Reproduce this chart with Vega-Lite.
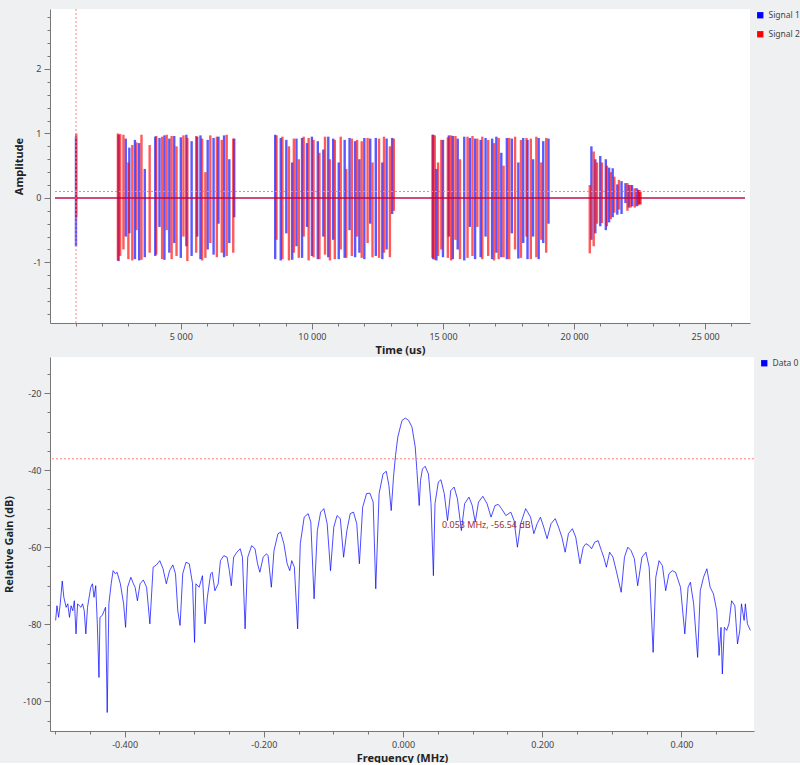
{
  "$schema": "https://vega.github.io/schema/vega-lite/v6.json",
  "padding": {"left": 3, "top": 8, "right": 0, "bottom": 0},
  "spacing": 2,
  "datasets": {
    "baseline": [{"t": 200, "v": 0}, {"t": 26520, "v": 0}],
    "trigger": [{"t": 200, "v": 0.1}, {"t": 26520, "v": 0.1}],
    "pulses": [
      {"s": "Signal 1", "t": 1000, "hi": 0.95, "lo": -0.75},
      {"s": "Signal 1", "t": 2624, "hi": 0.98, "lo": -0.98},
      {"s": "Signal 1", "t": 2899, "hi": 0.92, "lo": -0.6},
      {"s": "Signal 1", "t": 3036, "hi": 0.78, "lo": -0.55},
      {"s": "Signal 1", "t": 3249, "hi": 0.9, "lo": -0.95},
      {"s": "Signal 1", "t": 3411, "hi": 0.85, "lo": -0.97},
      {"s": "Signal 1", "t": 3624, "hi": 0.45, "lo": -0.92},
      {"s": "Signal 1", "t": 4024, "hi": 0.95, "lo": -0.9},
      {"s": "Signal 1", "t": 4186, "hi": 0.93, "lo": -0.45},
      {"s": "Signal 1", "t": 4374, "hi": 0.97, "lo": -0.96},
      {"s": "Signal 1", "t": 4561, "hi": 0.92, "lo": -0.85},
      {"s": "Signal 1", "t": 4749, "hi": 0.96, "lo": -0.7},
      {"s": "Signal 1", "t": 4999, "hi": 0.94, "lo": -0.93},
      {"s": "Signal 1", "t": 5211, "hi": 0.98, "lo": -0.75},
      {"s": "Signal 1", "t": 5411, "hi": 0.88, "lo": -0.9},
      {"s": "Signal 1", "t": 5624, "hi": 0.95, "lo": -0.6},
      {"s": "Signal 1", "t": 5749, "hi": 0.97, "lo": -0.95},
      {"s": "Signal 1", "t": 6024, "hi": 0.9, "lo": -0.8},
      {"s": "Signal 1", "t": 6249, "hi": 0.93, "lo": -0.88},
      {"s": "Signal 1", "t": 6436, "hi": 0.95, "lo": -0.4},
      {"s": "Signal 1", "t": 6649, "hi": 0.97, "lo": -0.92},
      {"s": "Signal 1", "t": 6849, "hi": 0.6, "lo": -0.7},
      {"s": "Signal 1", "t": 7036, "hi": 0.92, "lo": -0.3},
      {"s": "Signal 1", "t": 8599, "hi": 0.98, "lo": -0.95},
      {"s": "Signal 1", "t": 8811, "hi": 0.93, "lo": -0.97},
      {"s": "Signal 1", "t": 9024, "hi": 0.9, "lo": -0.55},
      {"s": "Signal 1", "t": 9249, "hi": 0.55, "lo": -0.96},
      {"s": "Signal 1", "t": 9411, "hi": 0.92, "lo": -0.75},
      {"s": "Signal 1", "t": 9624, "hi": 0.93, "lo": -0.93},
      {"s": "Signal 1", "t": 9811, "hi": 0.85, "lo": -0.45},
      {"s": "Signal 1", "t": 9999, "hi": 0.95, "lo": -0.9},
      {"s": "Signal 1", "t": 10224, "hi": 0.88, "lo": -0.95},
      {"s": "Signal 1", "t": 10436, "hi": 0.75, "lo": -0.6},
      {"s": "Signal 1", "t": 10624, "hi": 0.95, "lo": -0.92},
      {"s": "Signal 1", "t": 10811, "hi": 0.92, "lo": -0.65},
      {"s": "Signal 1", "t": 11024, "hi": 0.55, "lo": -0.95},
      {"s": "Signal 1", "t": 11249, "hi": 0.9, "lo": -0.93},
      {"s": "Signal 1", "t": 11436, "hi": 0.93, "lo": -0.5},
      {"s": "Signal 1", "t": 11649, "hi": 0.88, "lo": -0.92},
      {"s": "Signal 1", "t": 11811, "hi": 0.6, "lo": -0.85},
      {"s": "Signal 1", "t": 11999, "hi": 0.93, "lo": -0.95},
      {"s": "Signal 1", "t": 12224, "hi": 0.92, "lo": -0.4},
      {"s": "Signal 1", "t": 12436, "hi": 0.93, "lo": -0.9},
      {"s": "Signal 1", "t": 12686, "hi": 0.55, "lo": -0.95},
      {"s": "Signal 1", "t": 12849, "hi": 0.92, "lo": -0.8},
      {"s": "Signal 1", "t": 13061, "hi": 0.93, "lo": -0.25},
      {"s": "Signal 1", "t": 14624, "hi": 0.98, "lo": -0.95},
      {"s": "Signal 1", "t": 14749, "hi": 0.45, "lo": -0.97},
      {"s": "Signal 1", "t": 14999, "hi": 0.9, "lo": -0.92},
      {"s": "Signal 1", "t": 15224, "hi": 0.97, "lo": -0.6},
      {"s": "Signal 1", "t": 15374, "hi": 0.96, "lo": -0.95},
      {"s": "Signal 1", "t": 15561, "hi": 0.92, "lo": -0.8},
      {"s": "Signal 1", "t": 15811, "hi": 0.95, "lo": -0.97},
      {"s": "Signal 1", "t": 16024, "hi": 0.93, "lo": -0.45},
      {"s": "Signal 1", "t": 16224, "hi": 0.92, "lo": -0.95},
      {"s": "Signal 1", "t": 16436, "hi": 0.9, "lo": -0.92},
      {"s": "Signal 1", "t": 16624, "hi": 0.93, "lo": -0.6},
      {"s": "Signal 1", "t": 16874, "hi": 0.92, "lo": -0.95},
      {"s": "Signal 1", "t": 17036, "hi": 0.95, "lo": -0.85},
      {"s": "Signal 1", "t": 17224, "hi": 0.7, "lo": -0.92},
      {"s": "Signal 1", "t": 17436, "hi": 0.93, "lo": -0.95},
      {"s": "Signal 1", "t": 17624, "hi": 0.92, "lo": -0.55},
      {"s": "Signal 1", "t": 17874, "hi": 0.55, "lo": -0.94},
      {"s": "Signal 1", "t": 18061, "hi": 0.93, "lo": -0.7},
      {"s": "Signal 1", "t": 18224, "hi": 0.9, "lo": -0.95},
      {"s": "Signal 1", "t": 18436, "hi": 0.6, "lo": -0.6},
      {"s": "Signal 1", "t": 18649, "hi": 0.93, "lo": -0.95},
      {"s": "Signal 1", "t": 18824, "hi": 0.88, "lo": -0.7},
      {"s": "Signal 1", "t": 19024, "hi": 0.92, "lo": -0.4},
      {"s": "Signal 1", "t": 20661, "hi": 0.8, "lo": -0.65},
      {"s": "Signal 1", "t": 20811, "hi": 0.6, "lo": -0.55},
      {"s": "Signal 1", "t": 20999, "hi": 0.65, "lo": -0.44},
      {"s": "Signal 1", "t": 21211, "hi": 0.6, "lo": -0.5},
      {"s": "Signal 1", "t": 21336, "hi": 0.47, "lo": -0.38},
      {"s": "Signal 1", "t": 21474, "hi": 0.46, "lo": -0.3},
      {"s": "Signal 1", "t": 21649, "hi": 0.21, "lo": -0.26},
      {"s": "Signal 1", "t": 21811, "hi": 0.26, "lo": -0.25},
      {"s": "Signal 1", "t": 21961, "hi": 0.23, "lo": -0.08},
      {"s": "Signal 1", "t": 22086, "hi": 0.2, "lo": -0.15},
      {"s": "Signal 1", "t": 22211, "hi": 0.2, "lo": -0.13},
      {"s": "Signal 1", "t": 22386, "hi": 0.15, "lo": -0.13},
      {"s": "Signal 1", "t": 22474, "hi": 0.12, "lo": -0.1},
      {"s": "Signal 2", "t": 1010, "hi": 1.0, "lo": -0.3},
      {"s": "Signal 2", "t": 2599, "hi": 1.0, "lo": -0.97},
      {"s": "Signal 2", "t": 2686, "hi": 0.99, "lo": -0.9},
      {"s": "Signal 2", "t": 2811, "hi": 0.98, "lo": -0.8},
      {"s": "Signal 2", "t": 2999, "hi": 0.55, "lo": -0.95},
      {"s": "Signal 2", "t": 3149, "hi": 0.82, "lo": -0.97},
      {"s": "Signal 2", "t": 3311, "hi": 0.86, "lo": -0.5},
      {"s": "Signal 2", "t": 3499, "hi": 0.98, "lo": -0.96},
      {"s": "Signal 2", "t": 3811, "hi": 0.82, "lo": -0.85},
      {"s": "Signal 2", "t": 4061, "hi": 0.96, "lo": -0.88},
      {"s": "Signal 2", "t": 4286, "hi": 0.95, "lo": -0.95},
      {"s": "Signal 2", "t": 4461, "hi": 0.98, "lo": -0.5},
      {"s": "Signal 2", "t": 4649, "hi": 0.96, "lo": -0.95},
      {"s": "Signal 2", "t": 4836, "hi": 0.8, "lo": -0.9},
      {"s": "Signal 2", "t": 5099, "hi": 0.97, "lo": -0.6},
      {"s": "Signal 2", "t": 5249, "hi": 0.93, "lo": -0.98},
      {"s": "Signal 2", "t": 5586, "hi": 0.96, "lo": -0.85},
      {"s": "Signal 2", "t": 5811, "hi": 0.92, "lo": -0.97},
      {"s": "Signal 2", "t": 5936, "hi": 0.4, "lo": -0.93},
      {"s": "Signal 2", "t": 6124, "hi": 0.97, "lo": -0.7},
      {"s": "Signal 2", "t": 6374, "hi": 0.95, "lo": -0.92},
      {"s": "Signal 2", "t": 6561, "hi": 0.9, "lo": -0.85},
      {"s": "Signal 2", "t": 6749, "hi": 0.98, "lo": -0.9},
      {"s": "Signal 2", "t": 6999, "hi": 0.92, "lo": -0.85},
      {"s": "Signal 2", "t": 8649, "hi": 0.97, "lo": -0.65},
      {"s": "Signal 2", "t": 8874, "hi": 0.95, "lo": -0.95},
      {"s": "Signal 2", "t": 9124, "hi": 0.8, "lo": -0.97},
      {"s": "Signal 2", "t": 9311, "hi": 0.92, "lo": -0.85},
      {"s": "Signal 2", "t": 9499, "hi": 0.6, "lo": -0.93},
      {"s": "Signal 2", "t": 9686, "hi": 0.95, "lo": -0.6},
      {"s": "Signal 2", "t": 9874, "hi": 0.93, "lo": -0.97},
      {"s": "Signal 2", "t": 10061, "hi": 0.9, "lo": -0.92},
      {"s": "Signal 2", "t": 10286, "hi": 0.7, "lo": -0.95},
      {"s": "Signal 2", "t": 10499, "hi": 0.95, "lo": -0.88},
      {"s": "Signal 2", "t": 10686, "hi": 0.6, "lo": -0.97},
      {"s": "Signal 2", "t": 10874, "hi": 0.9, "lo": -0.95},
      {"s": "Signal 2", "t": 11099, "hi": 0.95, "lo": -0.8},
      {"s": "Signal 2", "t": 11311, "hi": 0.45, "lo": -0.93},
      {"s": "Signal 2", "t": 11524, "hi": 0.92, "lo": -0.9},
      {"s": "Signal 2", "t": 11724, "hi": 0.9, "lo": -0.6},
      {"s": "Signal 2", "t": 11899, "hi": 0.88, "lo": -0.93},
      {"s": "Signal 2", "t": 12124, "hi": 0.93, "lo": -0.7},
      {"s": "Signal 2", "t": 12311, "hi": 0.55, "lo": -0.92},
      {"s": "Signal 2", "t": 12561, "hi": 0.92, "lo": -0.93},
      {"s": "Signal 2", "t": 12749, "hi": 0.95, "lo": -0.85},
      {"s": "Signal 2", "t": 12974, "hi": 0.8, "lo": -0.92},
      {"s": "Signal 2", "t": 13124, "hi": 0.92, "lo": -0.2},
      {"s": "Signal 2", "t": 14599, "hi": 0.98, "lo": -0.93},
      {"s": "Signal 2", "t": 14686, "hi": 0.97, "lo": -0.96},
      {"s": "Signal 2", "t": 14811, "hi": 0.55, "lo": -0.9},
      {"s": "Signal 2", "t": 14936, "hi": 0.9, "lo": -0.8},
      {"s": "Signal 2", "t": 15186, "hi": 0.94, "lo": -0.93},
      {"s": "Signal 2", "t": 15311, "hi": 0.97, "lo": -0.97},
      {"s": "Signal 2", "t": 15474, "hi": 0.96, "lo": -0.65},
      {"s": "Signal 2", "t": 15649, "hi": 0.6, "lo": -0.95},
      {"s": "Signal 2", "t": 15936, "hi": 0.95, "lo": -0.93},
      {"s": "Signal 2", "t": 16124, "hi": 0.96, "lo": -0.9},
      {"s": "Signal 2", "t": 16311, "hi": 0.92, "lo": -0.45},
      {"s": "Signal 2", "t": 16499, "hi": 0.95, "lo": -0.95},
      {"s": "Signal 2", "t": 16724, "hi": 0.9, "lo": -0.9},
      {"s": "Signal 2", "t": 16949, "hi": 0.85, "lo": -0.97},
      {"s": "Signal 2", "t": 17124, "hi": 0.93, "lo": -0.95},
      {"s": "Signal 2", "t": 17311, "hi": 0.5, "lo": -0.92},
      {"s": "Signal 2", "t": 17524, "hi": 0.93, "lo": -0.95},
      {"s": "Signal 2", "t": 17749, "hi": 0.95, "lo": -0.8},
      {"s": "Signal 2", "t": 17974, "hi": 0.9, "lo": -0.93},
      {"s": "Signal 2", "t": 18186, "hi": 0.93, "lo": -0.6},
      {"s": "Signal 2", "t": 18349, "hi": 0.92, "lo": -0.95},
      {"s": "Signal 2", "t": 18561, "hi": 0.95, "lo": -0.92},
      {"s": "Signal 2", "t": 18749, "hi": 0.55, "lo": -0.65},
      {"s": "Signal 2", "t": 18936, "hi": 0.93, "lo": -0.85},
      {"s": "Signal 2", "t": 20599, "hi": 0.2, "lo": -0.86},
      {"s": "Signal 2", "t": 20749, "hi": 0.72, "lo": -0.75},
      {"s": "Signal 2", "t": 20874, "hi": 0.55, "lo": -0.4},
      {"s": "Signal 2", "t": 21061, "hi": 0.55, "lo": -0.39},
      {"s": "Signal 2", "t": 21249, "hi": 0.5, "lo": -0.44},
      {"s": "Signal 2", "t": 21399, "hi": 0.4, "lo": -0.33},
      {"s": "Signal 2", "t": 21536, "hi": 0.33, "lo": -0.23},
      {"s": "Signal 2", "t": 21711, "hi": 0.28, "lo": -0.18},
      {"s": "Signal 2", "t": 22036, "hi": 0.23, "lo": -0.2},
      {"s": "Signal 2", "t": 22161, "hi": 0.2, "lo": -0.15},
      {"s": "Signal 2", "t": 22311, "hi": 0.15, "lo": -0.15},
      {"s": "Signal 2", "t": 22436, "hi": 0.13, "lo": -0.12},
      {"s": "Signal 2", "t": 22499, "hi": 0.12, "lo": -0.1},
      {"s": "Signal 2", "t": 22536, "hi": 0.1, "lo": -0.1}
    ],
    "spectrum": [
      {"f": -0.4991, "db": -79.0}, {"f": -0.4972, "db": -75.2}, {"f": -0.4948, "db": -78.2}, {"f": -0.4925, "db": -74.7},
      {"f": -0.4896, "db": -68.8}, {"f": -0.4873, "db": -73.0}, {"f": -0.484, "db": -75.6}, {"f": -0.4816, "db": -74.7},
      {"f": -0.4792, "db": -78.2}, {"f": -0.4769, "db": -75.2}, {"f": -0.4745, "db": -76.5}, {"f": -0.4722, "db": -73.9},
      {"f": -0.4698, "db": -82.5}, {"f": -0.4675, "db": -74.7}, {"f": -0.4651, "db": -75.2}, {"f": -0.4627, "db": -75.6},
      {"f": -0.4604, "db": -74.7}, {"f": -0.458, "db": -76.5}, {"f": -0.4557, "db": -82.5}, {"f": -0.4533, "db": -75.6},
      {"f": -0.4486, "db": -70.4}, {"f": -0.4462, "db": -69.5}, {"f": -0.4439, "db": -73.0}, {"f": -0.4415, "db": -70.0},
      {"f": -0.4392, "db": -79.9}, {"f": -0.4368, "db": -93.8}, {"f": -0.4354, "db": -78.2}, {"f": -0.4321, "db": -77.7},
      {"f": -0.4274, "db": -75.6}, {"f": -0.425, "db": -102.9}, {"f": -0.4226, "db": -74.7}, {"f": -0.4193, "db": -69.5},
      {"f": -0.4165, "db": -66.1}, {"f": -0.4132, "db": -66.9}, {"f": -0.4108, "db": -66.5}, {"f": -0.4061, "db": -69.5},
      {"f": -0.4014, "db": -74.7}, {"f": -0.3986, "db": -80.8}, {"f": -0.3958, "db": -70.4}, {"f": -0.391, "db": -67.8},
      {"f": -0.3873, "db": -69.5}, {"f": -0.3849, "db": -70.4}, {"f": -0.3816, "db": -73.9}, {"f": -0.3778, "db": -69.5},
      {"f": -0.3731, "db": -68.5}, {"f": -0.3684, "db": -70.4}, {"f": -0.3637, "db": -79.9}, {"f": -0.359, "db": -65.2},
      {"f": -0.3542, "db": -64.6}, {"f": -0.3495, "db": -63.5}, {"f": -0.3448, "db": -65.6}, {"f": -0.3401, "db": -69.5},
      {"f": -0.3354, "db": -66.1}, {"f": -0.3307, "db": -64.6}, {"f": -0.3269, "db": -66.9}, {"f": -0.3236, "db": -76.5},
      {"f": -0.3203, "db": -80.3}, {"f": -0.3165, "db": -66.9}, {"f": -0.3118, "db": -63.9}, {"f": -0.3071, "db": -64.3},
      {"f": -0.3024, "db": -69.5}, {"f": -0.2995, "db": -84.7}, {"f": -0.2976, "db": -69.5}, {"f": -0.2929, "db": -70.4},
      {"f": -0.2882, "db": -67.4}, {"f": -0.2844, "db": -79.9}, {"f": -0.2811, "db": -73.0}, {"f": -0.2764, "db": -66.9},
      {"f": -0.2741, "db": -66.5}, {"f": -0.2703, "db": -71.3}, {"f": -0.2656, "db": -69.5}, {"f": -0.2623, "db": -63.5},
      {"f": -0.2575, "db": -62.2}, {"f": -0.2528, "db": -62.6}, {"f": -0.2495, "db": -66.1}, {"f": -0.2467, "db": -70.0},
      {"f": -0.2434, "db": -62.6}, {"f": -0.2387, "db": -61.3}, {"f": -0.234, "db": -60.4}, {"f": -0.2307, "db": -62.6},
      {"f": -0.2269, "db": -81.2}, {"f": -0.2231, "db": -62.6}, {"f": -0.2175, "db": -59.6}, {"f": -0.2127, "db": -60.4},
      {"f": -0.209, "db": -64.3}, {"f": -0.2057, "db": -66.5}, {"f": -0.2009, "db": -62.6}, {"f": -0.1962, "db": -61.7},
      {"f": -0.1939, "db": -62.2}, {"f": -0.1892, "db": -70.4}, {"f": -0.1854, "db": -60.9}, {"f": -0.1797, "db": -56.5},
      {"f": -0.1759, "db": -56.1}, {"f": -0.1712, "db": -59.1}, {"f": -0.1665, "db": -64.3}, {"f": -0.1627, "db": -66.1},
      {"f": -0.1599, "db": -63.5}, {"f": -0.1561, "db": -65.2}, {"f": -0.1514, "db": -81.2}, {"f": -0.1476, "db": -59.1},
      {"f": -0.142, "db": -52.2}, {"f": -0.1363, "db": -51.3}, {"f": -0.1325, "db": -53.5}, {"f": -0.1278, "db": -73.4},
      {"f": -0.1231, "db": -55.7}, {"f": -0.1184, "db": -50.9}, {"f": -0.1137, "db": -50.0}, {"f": -0.109, "db": -53.9},
      {"f": -0.1042, "db": -66.1}, {"f": -0.0995, "db": -54.8}, {"f": -0.0948, "db": -51.8}, {"f": -0.0901, "db": -52.6},
      {"f": -0.0854, "db": -62.6}, {"f": -0.0807, "db": -55.7}, {"f": -0.0759, "db": -51.3}, {"f": -0.0712, "db": -50.9},
      {"f": -0.0665, "db": -53.9}, {"f": -0.0627, "db": -64.3}, {"f": -0.058, "db": -49.6}, {"f": -0.0524, "db": -46.1},
      {"f": -0.0476, "db": -46.0}, {"f": -0.0429, "db": -48.3}, {"f": -0.0392, "db": -70.8}, {"f": -0.0344, "db": -46.1},
      {"f": -0.0288, "db": -41.0}, {"f": -0.0241, "db": -40.3}, {"f": -0.0203, "db": -44.0}, {"f": -0.017, "db": -50.5},
      {"f": -0.0137, "db": -41.8}, {"f": -0.0108, "db": -36.2}, {"f": -0.0075, "db": -31.4}, {"f": -0.0028, "db": -28.0},
      {"f": -0.0014, "db": -27.1}, {"f": 0.0033, "db": -26.5}, {"f": 0.008, "db": -27.1}, {"f": 0.0128, "db": -28.8},
      {"f": 0.0175, "db": -34.0}, {"f": 0.0199, "db": -40.1}, {"f": 0.0232, "db": -49.2}, {"f": 0.0251, "db": -42.7},
      {"f": 0.0279, "db": -39.7}, {"f": 0.0317, "db": -39.0}, {"f": 0.0365, "db": -41.0}, {"f": 0.0402, "db": -48.7},
      {"f": 0.0436, "db": -67.4}, {"f": 0.0459, "db": -48.7}, {"f": 0.0507, "db": -43.1}, {"f": 0.0544, "db": -42.5},
      {"f": 0.0592, "db": -46.1}, {"f": 0.0639, "db": -53.1}, {"f": 0.0686, "db": -45.3}, {"f": 0.0734, "db": -44.4},
      {"f": 0.0781, "db": -47.4}, {"f": 0.0838, "db": -55.7}, {"f": 0.0885, "db": -48.7}, {"f": 0.0947, "db": -47.0},
      {"f": 0.0994, "db": -49.2}, {"f": 0.1037, "db": -53.5}, {"f": 0.1084, "db": -48.3}, {"f": 0.1146, "db": -46.8},
      {"f": 0.1207, "db": -48.7}, {"f": 0.1264, "db": -52.2}, {"f": 0.1321, "db": -49.2}, {"f": 0.1368, "db": -48.9},
      {"f": 0.1415, "db": -50.0}, {"f": 0.1477, "db": -51.8}, {"f": 0.1548, "db": -50.9}, {"f": 0.1595, "db": -53.1},
      {"f": 0.1643, "db": -60.0}, {"f": 0.169, "db": -53.9}, {"f": 0.1761, "db": -50.0}, {"f": 0.1832, "db": -52.2},
      {"f": 0.1879, "db": -56.5}, {"f": 0.1927, "db": -53.9}, {"f": 0.1974, "db": -52.2}, {"f": 0.2021, "db": -54.8},
      {"f": 0.2069, "db": -57.8}, {"f": 0.2126, "db": -53.9}, {"f": 0.2187, "db": -52.6}, {"f": 0.2234, "db": -54.8},
      {"f": 0.2282, "db": -57.4}, {"f": 0.2329, "db": -61.3}, {"f": 0.2376, "db": -56.5}, {"f": 0.2433, "db": -55.2},
      {"f": 0.2481, "db": -57.4}, {"f": 0.2542, "db": -64.3}, {"f": 0.2589, "db": -60.0}, {"f": 0.2627, "db": -59.1},
      {"f": 0.2675, "db": -59.6}, {"f": 0.2708, "db": -60.4}, {"f": 0.2755, "db": -58.7}, {"f": 0.2802, "db": -58.3},
      {"f": 0.285, "db": -60.9}, {"f": 0.2883, "db": -62.6}, {"f": 0.2921, "db": -65.2}, {"f": 0.2968, "db": -61.3},
      {"f": 0.3016, "db": -62.6}, {"f": 0.3063, "db": -66.1}, {"f": 0.3134, "db": -71.7}, {"f": 0.3181, "db": -62.6},
      {"f": 0.3229, "db": -60.0}, {"f": 0.3276, "db": -60.9}, {"f": 0.3323, "db": -63.0}, {"f": 0.3371, "db": -70.0},
      {"f": 0.3432, "db": -62.6}, {"f": 0.3489, "db": -61.3}, {"f": 0.3536, "db": -65.2}, {"f": 0.3593, "db": -87.3},
      {"f": 0.3631, "db": -67.8}, {"f": 0.3678, "db": -63.5}, {"f": 0.3726, "db": -64.8}, {"f": 0.3773, "db": -71.3},
      {"f": 0.382, "db": -66.9}, {"f": 0.3868, "db": -66.1}, {"f": 0.3915, "db": -66.5}, {"f": 0.3986, "db": -70.4},
      {"f": 0.4048, "db": -82.5}, {"f": 0.4095, "db": -70.4}, {"f": 0.4128, "db": -69.1}, {"f": 0.4175, "db": -74.7},
      {"f": 0.4232, "db": -88.6}, {"f": 0.427, "db": -71.3}, {"f": 0.4317, "db": -67.8}, {"f": 0.4365, "db": -65.6},
      {"f": 0.4412, "db": -70.4}, {"f": 0.4459, "db": -72.1}, {"f": 0.4507, "db": -76.5}, {"f": 0.454, "db": -88.1},
      {"f": 0.4568, "db": -80.8}, {"f": 0.4587, "db": -92.9}, {"f": 0.4616, "db": -80.8}, {"f": 0.4649, "db": -81.6},
      {"f": 0.4682, "db": -79.9}, {"f": 0.472, "db": -73.9}, {"f": 0.4767, "db": -75.2}, {"f": 0.4805, "db": -85.1},
      {"f": 0.4838, "db": -81.6}, {"f": 0.4862, "db": -74.7}, {"f": 0.49, "db": -79.0}, {"f": 0.4918, "db": -74.7},
      {"f": 0.4947, "db": -79.9}, {"f": 0.499, "db": -81.6}
    ],
    "marker": [{"f": 0.053, "db": -56.54, "label": "0.053 MHz, -56.54 dB", "series": "Data 0"}]
  },
  "vconcat": [
    {
      "width": 700,
      "height": 314,
      "resolve": {"axis": {"x": "independent", "y": "independent"}},
      "layer": [
        {
          "data": {"name": "pulses"},
          "mark": {"type": "bar", "width": 2.4, "opacity": 0.65},
          "encoding": {
            "x": {
              "field": "t", "type": "quantitative",
              "scale": {"domain": [200, 26520], "nice": false, "zero": false},
              "axis": {
                "title": "Time (us)", "orient": "bottom", "tickSize": 6,
                "values": [5000, 10000, 15000, 20000, 25000],
                "labelExpr": "replace(format(datum.value, ','), ',', ' ')"
              }
            },
            "y": {
              "field": "lo", "type": "quantitative",
              "scale": {"domain": [-1.94, 2.93], "nice": false, "zero": false},
              "axis": {
                "title": "Amplitude", "orient": "left", "tickSize": 6,
                "values": [-1, 0, 1, 2],
                "labelExpr": "'' + datum.value"
              }
            },
            "y2": {"field": "hi"},
            "color": {
              "field": "s", "type": "nominal",
              "scale": {"domain": ["Signal 1", "Signal 2"], "range": ["#0000ff", "#ff0000"]},
              "legend": {"title": null, "symbolType": "square", "symbolSize": 40, "symbolOpacity": 1, "symbolStrokeWidth": 0}
            }
          }
        },
        {
          "data": {"name": "baseline"},
          "mark": {"type": "line", "strokeWidth": 1.5, "color": "#0000ff", "opacity": 0.5},
          "encoding": {
            "x": {
              "field": "t", "type": "quantitative",
              "axis": {
                "title": null, "orient": "bottom", "labels": false, "domain": false, "tickSize": 3,
                "values": [1000, 2000, 3000, 4000, 6000, 7000, 8000, 9000, 11000, 12000, 13000, 14000, 16000, 17000, 18000, 19000, 21000, 22000, 23000, 24000, 26000]
              }
            },
            "y": {
              "field": "v", "type": "quantitative",
              "axis": {
                "title": null, "orient": "left", "labels": false, "domain": false, "tickSize": 3,
                "values": [-1.8, -1.6, -1.4, -1.2, -0.8, -0.6, -0.4, -0.2, 0.2, 0.4, 0.6, 0.8, 1.2, 1.4, 1.6, 1.8, 2.2, 2.4, 2.6, 2.8]
              }
            }
          }
        },
        {
          "data": {"name": "baseline"},
          "mark": {"type": "line", "strokeWidth": 1.5, "color": "#ff0000", "opacity": 0.7},
          "encoding": {
            "x": {"field": "t", "type": "quantitative", "axis": null},
            "y": {"field": "v", "type": "quantitative", "axis": null}
          }
        },
        {
          "data": {"name": "trigger"},
          "mark": {"type": "line", "strokeDash": [2, 2], "strokeWidth": 1, "color": "#ff8080"},
          "encoding": {
            "x": {"field": "t", "type": "quantitative", "axis": null},
            "y": {"field": "v", "type": "quantitative", "axis": null}
          }
        },
        {
          "data": {"values": [{}]},
          "mark": {"type": "rule", "strokeDash": [2, 2], "strokeWidth": 1},
          "encoding": {"x": {"datum": 1000, "axis": null}, "stroke": {"value": "#ff8080"}}
        }
      ]
    },
    {
      "width": 704,
      "height": 374,
      "resolve": {"axis": {"x": "independent", "y": "independent"}},
      "layer": [
        {
          "data": {"name": "spectrum"},
          "mark": {"type": "line", "strokeWidth": 1, "color": "#0000ff", "opacity": 0.7},
          "encoding": {
            "x": {
              "field": "f", "type": "quantitative",
              "scale": {"domain": [-0.5, 0.497], "nice": false, "zero": false},
              "axis": {
                "title": "Frequency (MHz)", "orient": "bottom", "tickSize": 6,
                "values": [-0.4, -0.2, 0, 0.2, 0.4],
                "labelExpr": "replace(format(datum.value, '.3f'), '\u2212', '-')"
              }
            },
            "y": {
              "field": "db", "type": "quantitative",
              "scale": {"domain": [-107.7, -10.65], "nice": false, "zero": false},
              "axis": {
                "title": "Relative Gain (dB)", "orient": "left", "tickSize": 6,
                "values": [-100, -80, -60, -40, -20],
                "labelExpr": "'' + datum.value"
              }
            }
          }
        },
        {
          "data": {"values": [{}]},
          "mark": {"type": "rule", "strokeDash": [2, 2], "strokeWidth": 1},
          "encoding": {"y": {"datum": -37.06, "type": "quantitative", "axis": null}, "stroke": {"value": "#ff8080"}}
        },
        {
          "data": {"name": "marker"},
          "mark": {"type": "text", "align": "left", "baseline": "middle", "dx": 2, "dy": -9, "fontSize": 9, "color": "#a52a2a"},
          "encoding": {
            "x": {
              "field": "f", "type": "quantitative",
              "axis": {
                "title": null, "orient": "bottom", "labels": false, "domain": false, "tickSize": 3,
                "values": [-0.5, -0.45, -0.35, -0.3, -0.25, -0.15, -0.1, -0.05, 0.05, 0.1, 0.15, 0.25, 0.3, 0.35, 0.45]
              }
            },
            "y": {
              "field": "db", "type": "quantitative",
              "axis": {
                "title": null, "orient": "left", "labels": false, "domain": false, "tickSize": 3,
                "values": [-105, -95, -90, -85, -75, -70, -65, -55, -50, -45, -35, -30, -25, -15]
              }
            },
            "text": {"field": "label"}
          }
        },
        {
          "data": {"name": "marker"},
          "mark": {"type": "bar", "width": 1},
          "encoding": {
            "x": {"field": "f", "type": "quantitative", "axis": null},
            "y": {"field": "db", "type": "quantitative", "axis": null},
            "y2": {"field": "db"},
            "color": {
              "field": "series", "type": "nominal",
              "scale": {"range": ["#0000ff"]},
              "legend": {"title": null, "symbolType": "square", "symbolSize": 40, "symbolOpacity": 1, "symbolStrokeWidth": 0}
            }
          }
        }
      ]
    }
  ],
  "resolve": {"scale": {"color": "independent"}, "legend": {"color": "independent"}},
  "config": {
    "background": "#eff0f1",
    "font": "Noto Sans",
    "view": {"fill": "white", "stroke": null},
    "axis": {
      "grid": false,
      "domainColor": "#777777",
      "tickColor": "#777777",
      "labelColor": "#444444",
      "labelFontSize": 9,
      "labelOverlap": false,
      "labelFlush": false,
      "labelPadding": 3,
      "titleFontSize": 11,
      "titleFontWeight": "bold",
      "titleColor": "#222222",
      "titlePadding": 3
    },
    "axisY": {"titlePadding": 8},
    "legend": {
      "orient": "right",
      "offset": 4,
      "padding": 2,
      "labelFontSize": 8.5,
      "labelColor": "#444444",
      "rowPadding": 10,
      "labelOffset": 4
    }
  }
}
